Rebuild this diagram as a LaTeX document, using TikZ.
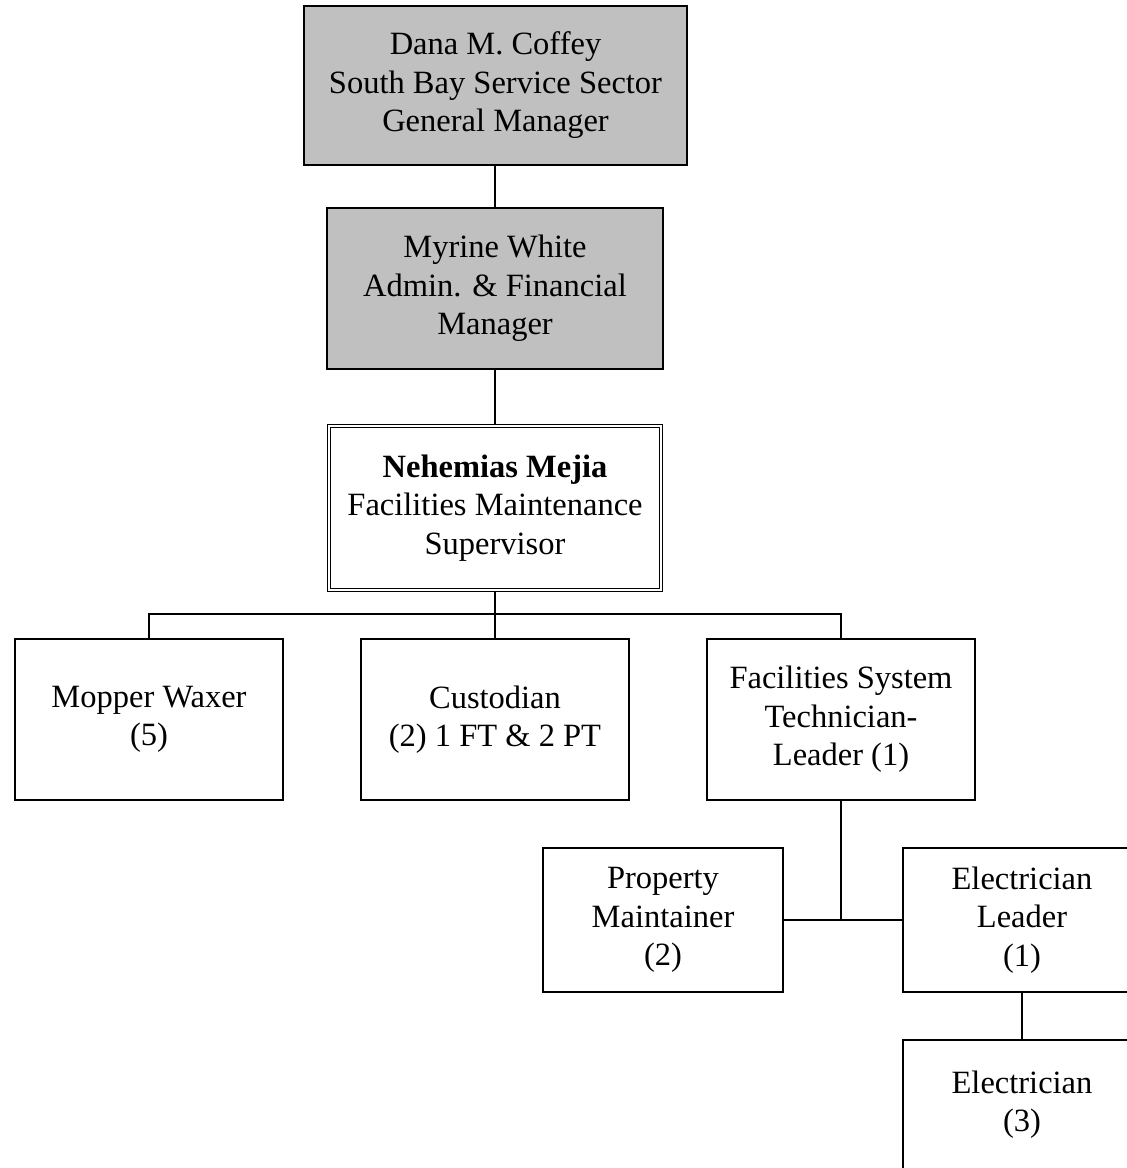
\documentclass[tikz,border=0pt]{standalone}
\usepackage{fontspec}
\setmainfont{Liberation Serif}
\begin{document}
\begin{tikzpicture}[x=1pt,y=1pt,
  box/.style={draw=black, line width=1.5pt, align=center, inner sep=0pt,
    font=\fontsize{32.5}{38.5}\selectfont},
  graybox/.style={box, fill=boxgray},
  dblbox/.style={box, line width=1.2pt, double, double distance=2.4pt},
  conn/.style={line width=1.5pt}]
\definecolor{boxgray}{HTML}{C0C0C0}
\useasboundingbox (0,0) rectangle (1127,1168);
\clip (0,0) rectangle (1127,1168);
\node[graybox, minimum width=383pt, minimum height=159pt] (gm) at (495.5,1082.5)
  {Dana M. Coffey\\South Bay Service Sector\\General Manager};
\node[graybox, minimum width=336pt, minimum height=161pt] (am) at (495,879.5)
  {Myrine White\\Admin. \& Financial\\Manager};
\node[dblbox, minimum width=332pt, minimum height=164pt] (sup) at (495,660)
  {\textbf{Nehemias Mejia}\\Facilities Maintenance\\Supervisor};
\node[box, minimum width=268pt, minimum height=161pt] (mw) at (149,448.5)
  {Mopper Waxer\\(5)};
\node[box, minimum width=268pt, minimum height=161pt] (cu) at (495,448.5)
  {Custodian\\(2) 1 FT \& 2 PT};
\node[box, minimum width=268pt, minimum height=161pt] (fst) at (841,448.5)
  {Facilities System\\Technician-\\Leader (1)};
\node[box, minimum width=240pt, minimum height=144pt] (pm) at (663,248)
  {Property\\Maintainer\\(2)};
\node[box, minimum width=238pt, minimum height=144pt] (el) at (1022,248)
  {Electrician\\Leader\\(1)};
\node[box, minimum width=238pt, minimum height=129pt] (ec) at (1022,63.5)
  {Electrician\\(3)};
\coordinate (j) at (495,554);
\draw[conn] (am.north |- gm.south) -- (am.north);
\draw[conn] (am.south) -- ([yshift=0.6pt]sup.north);
\draw[conn] ([yshift=-0.6pt]sup.south) -- (j);
\draw[conn] (mw.north) |- (j) -| (fst.north);
\draw[conn] (cu.north) -- (j);
\draw[conn] (pm.east) -- (el.west);
\draw[conn] (fst.south) -- (fst.south |- pm.east);
\draw[conn] (el.south) -- (ec.north);
\end{tikzpicture}
\end{document}
